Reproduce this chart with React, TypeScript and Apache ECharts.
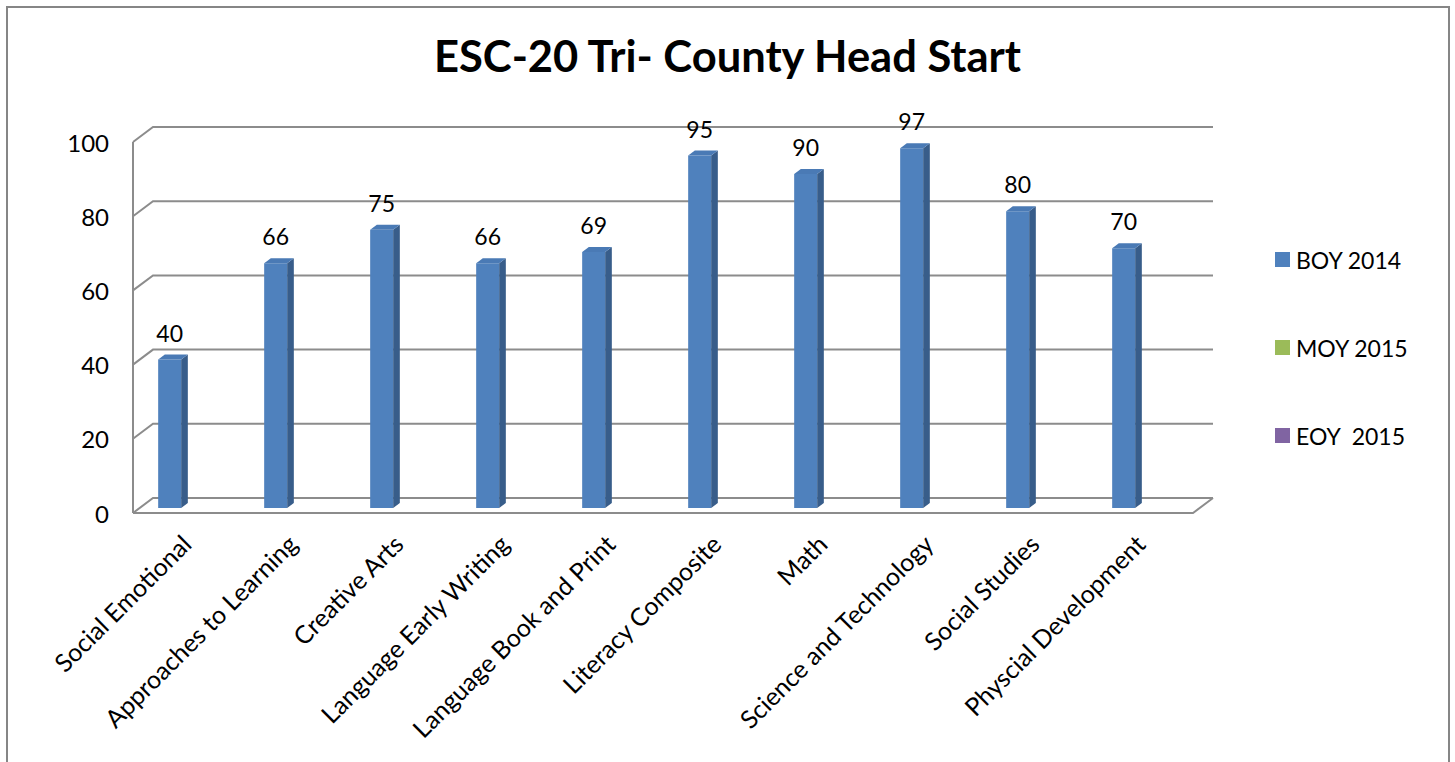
import React, { useEffect, useRef } from "react";
import * as echarts from "echarts";

const categories = [
  "Social Emotional",
  "Approaches to Learning",
  "Creative Arts",
  "Language Early Writing",
  "Language Book and Print",
  "Literacy Composite",
  "Math",
  "Science and Technology",
  "Social Studies",
  "Physcial Development",
];
const boy2014 = [40, 66, 75, 66, 69, 95, 90, 97, 80, 70];
const moy2015: number[] = [];
const eoy2015: number[] = [];
const yTicks = [0, 20, 40, 60, 80, 100];
const seriesNames = ["BOY 2014", "MOY 2015", "EOY  2015"];

const FONT = "Lato, 'Open Sans', sans-serif";
const DEPTH_X = 20;
const DEPTH_Y = -15;
const GRID_COLOR = "#8c8c8c";

export default function App() {
  const ref = useRef<HTMLDivElement>(null);
  useEffect(() => {
    const chart = echarts.init(ref.current!, null, { renderer: "svg" });

    const gridRender = (params: any, api: any) => {
      const v = api.value(1);
      const cs = params.coordSys;
      const y = api.coord([0, v])[1];
      const x0 = cs.x;
      const x1 = cs.x + cs.width;
      const children: any[] = [
        {
          type: "polyline",
          shape: {
            points: [
              [x0, y],
              [x0 + DEPTH_X, y + DEPTH_Y],
              [x1 + DEPTH_X, y + DEPTH_Y],
            ],
          },
          style: { stroke: GRID_COLOR, lineWidth: 2, fill: null },
        },
      ];
      if (v === 0) {
        children.push({
          type: "polyline",
          shape: {
            points: [
              [x0, y],
              [x1, y],
              [x1 + DEPTH_X, y + DEPTH_Y],
            ],
          },
          style: { stroke: GRID_COLOR, lineWidth: 2, fill: null },
        });
        const yTop = api.coord([0, yTicks[yTicks.length - 1]])[1];
        children.push({
          type: "line",
          shape: { x1: x0, y1: y, x2: x0, y2: yTop },
          style: { stroke: GRID_COLOR, lineWidth: 2 },
        });
      }
      return { type: "group", children };
    };

    const barRender = (params: any, api: any) => {
      const i = api.value(0);
      const v = api.value(1);
      const top = api.coord([i, v]);
      const base = api.coord([i, 0]);
      const band = api.size([1, 0])[0];
      const bw = (band * 23) / 106;
      const dx = DEPTH_X / 3;
      const dy = DEPTH_Y / 3;
      const cx = top[0] + dx - bw;
      const x0 = cx - bw / 2;
      const x1 = cx + bw / 2;
      const yt = top[1] + dy;
      const yb = base[1] + dy;
      return {
        type: "group",
        children: [
          {
            type: "rect",
            shape: { x: x0, y: yt, width: bw, height: yb - yt },
            style: { fill: "#4f81bd" },
          },
          {
            type: "polygon",
            shape: {
              points: [
                [x1, yt],
                [x1 + dx, yt + dy],
                [x1 + dx, yb + dy],
                [x1, yb],
              ],
            },
            style: { fill: "#385d8a" },
          },
          {
            type: "polygon",
            shape: {
              points: [
                [x0, yt],
                [x0 + dx, yt + dy],
                [x1 + dx, yt + dy],
                [x1, yt],
              ],
            },
            style: { fill: "#4a7ab5" },
          },
          {
            type: "text",
            style: {
              text: String(v),
              x: cx,
              y: yt + dy - 22,
              align: "center",
              verticalAlign: "middle",
              fontSize: 23,
              fontFamily: FONT,
              fill: "#000",
            },
          },
        ],
      };
    };

    const legendTops = [248, 336, 424];
    const colors = ["#4f81bd", "#9bbb59", "#8064a2"];

    chart.setOption({
      animation: false,
      title: {
        text: "ESC-20 Tri- County Head Start",
        left: "center",
        top: 33,
        padding: 0,
        textStyle: { fontSize: 43.5, fontWeight: "bold", fontFamily: FONT, color: "#000" },
      },
      legend: seriesNames.map((n, k) => ({
        data: [n],
        left: 1275,
        top: legendTops[k],
        padding: 0,
        icon: "rect",
        itemWidth: 15,
        itemHeight: 15,
        itemGap: 7,
        textStyle: { fontSize: 23, fontFamily: FONT, color: "#000", padding: [0, 0, 0, 1] },
        selectedMode: false,
      })),
      graphic: [
        {
          type: "rect",
          shape: { x: 7, y: 7, width: 1442, height: 800 },
          style: { fill: null, stroke: "#868686", lineWidth: 2 },
          silent: true,
        },
      ],
      grid: { left: 133, right: 262, top: 142, bottom: 249, containLabel: false },
      xAxis: {
        type: "category",
        data: categories,
        axisLine: { show: false },
        axisTick: { show: false },
        splitLine: { show: false },
        axisLabel: {
          interval: 0,
          rotate: 45,
          margin: 26,
          fontSize: 25,
          fontFamily: FONT,
          color: "#000",
        },
      },
      yAxis: {
        type: "value",
        min: 0,
        max: 100,
        interval: 20,
        axisLine: { show: false },
        axisTick: { show: false },
        splitLine: { show: false },
        axisLabel: { margin: 24, fontSize: 24, fontFamily: FONT, color: "#000" },
      },
      series: [
        {
          type: "custom",
          name: "gridlines",
          renderItem: gridRender,
          data: yTicks.map((v) => [0, v]),
          encode: { x: 0, y: 1 },
          clip: false,
          silent: true,
          z: 1,
        },
        {
          type: "custom",
          name: seriesNames[0],
          renderItem: barRender,
          data: boy2014.map((v, i) => [i, v]),
          encode: { x: 0, y: 1 },
          itemStyle: { color: colors[0] },
          clip: false,
          z: 2,
        },
        {
          type: "custom",
          name: seriesNames[1],
          renderItem: barRender,
          data: moy2015.map((v, i) => [i, v]),
          encode: { x: 0, y: 1 },
          itemStyle: { color: colors[1] },
          z: 2,
        },
        {
          type: "custom",
          name: seriesNames[2],
          renderItem: barRender,
          data: eoy2015.map((v, i) => [i, v]),
          encode: { x: 0, y: 1 },
          itemStyle: { color: colors[2] },
          z: 2,
        },
      ],
    });
    return () => chart.dispose();
  }, []);
  return (
    <div
      ref={ref}
      style={{ position: "fixed", left: 0, top: 0, width: 1455, height: 762, background: "#fff" }}
    />
  );
}
